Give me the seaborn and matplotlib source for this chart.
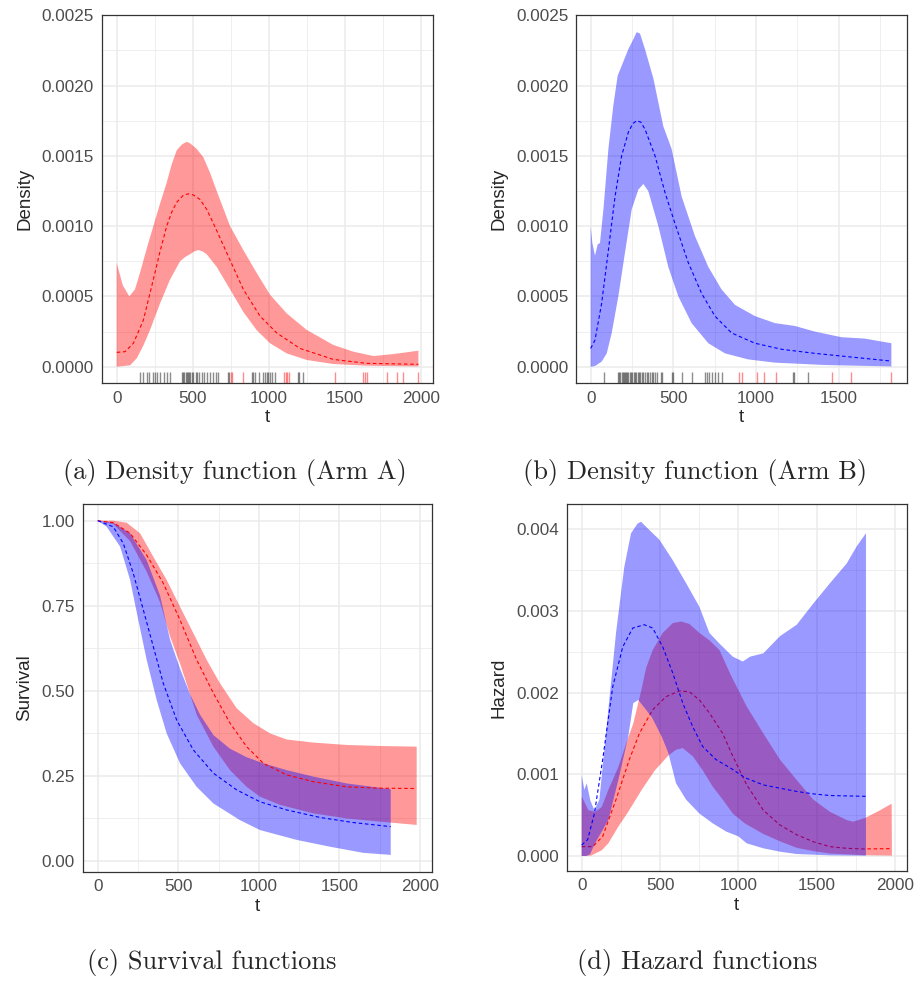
import numpy as np
import matplotlib
matplotlib.use("Agg")
import matplotlib.pyplot as plt
import seaborn as sns

# ---------------- data ----------------
# (a) density, Arm A
a_up_t = [0, 40, 83, 120, 153, 200, 241, 285, 329, 362, 395, 428, 460, 482, 526, 570, 614, 658, 746, 833, 921,
          1009, 1118, 1250, 1425, 1557, 1689, 1820, 1985]
a_up_d = [0.000738, 0.00058, 0.0005, 0.00055, 0.000667, 0.00085, 0.001, 0.00116, 0.00131, 0.00144, 0.00154,
          0.00158, 0.0016, 0.00159, 0.00155, 0.00149, 0.00138, 0.00125, 0.001, 0.00083, 0.000667, 0.000512,
          0.00038, 0.000262, 0.000155, 0.000107, 0.000076, 0.00009, 0.000114]
a_lo_t = [0, 88, 132, 175, 219, 285, 351, 417, 450, 482, 510, 537, 565, 592, 658, 746, 833, 921, 1009, 1118, 1250,
          1425, 1645, 1985]
a_lo_d = [0, 0.00001, 0.00006, 0.00015, 0.00026, 0.00045, 0.00062, 0.00075, 0.00078, 0.0008, 0.00082, 0.00083,
          0.00082, 0.0008, 0.00071, 0.00055, 0.00039, 0.00026, 0.000167, 0.000095, 0.000048, 0.000019, 0.000007,
          0.000002]
a_md_t = [0, 55, 110, 175, 241, 285, 329, 362, 395, 439, 471, 504, 548, 592, 636, 724, 833, 943, 1053, 1206, 1425,
          1645, 1985]
a_md_d = [0.000102, 0.000107, 0.000167, 0.00033, 0.00062, 0.00082, 0.001, 0.0011, 0.00117, 0.00122, 0.00123,
          0.001222, 0.00119, 0.00112, 0.00102, 0.00081, 0.00055, 0.00036, 0.00024, 0.00013, 0.000052, 0.000024,
          0.000017]
a_rug_event = [154, 171, 197, 215, 237, 252, 263, 285, 311, 329, 351, 428, 439, 445, 454, 461, 467, 474, 482, 493,
               504, 522, 531, 544, 559, 575, 592, 614, 636, 654, 669, 730, 741, 888, 899, 910, 939, 965, 976, 987,
               998, 1009, 1020, 1042, 1191, 1202, 1224]
a_rug_cens = [750, 757, 833, 1103, 1112, 1123, 1134, 1436, 1623, 1634, 1645, 1781, 1842, 1882, 1985]

# (b) density, Arm B
b_up_t = [0, 10, 26, 42, 56, 77, 107, 137, 163, 187, 228, 258, 278, 298, 328, 379, 439, 489, 550, 630, 711, 791,
          872, 993, 1114, 1234, 1355, 1516, 1657, 1818]
b_up_d = [0.001, 0.00088, 0.00079, 0.00087, 0.00088, 0.00112, 0.00155, 0.00186, 0.00207, 0.00214, 0.00226, 0.00233,
          0.00238, 0.00237, 0.00226, 0.00205, 0.00171, 0.00155, 0.00121, 0.00093, 0.00071, 0.00055, 0.00044,
          0.00036, 0.00031, 0.00029, 0.00025, 0.00021, 0.0002, 0.000167]
b_lo_t = [0, 26, 66, 97, 127, 167, 207, 248, 288, 318, 348, 409, 469, 530, 610, 711, 812, 952, 1114, 1416, 1818]
b_lo_d = [0, 0.000005, 0.000036, 0.000095, 0.00024, 0.0005, 0.00081, 0.00112, 0.00126, 0.0013, 0.00125, 0.001,
          0.00071, 0.0005, 0.00031, 0.000167, 0.000095, 0.000052, 0.000029, 0.000012, 0.000002]
b_md_t = [0, 26, 66, 107, 147, 187, 228, 255, 278, 303, 328, 389, 449, 509, 590, 671, 751, 852, 993, 1154, 1355,
          1557, 1818]
b_md_d = [0.00013, 0.00019, 0.00045, 0.00083, 0.00121, 0.0015, 0.00167, 0.00173, 0.00175, 0.00174, 0.00169,
          0.0015, 0.00124, 0.00102, 0.00074, 0.00052, 0.00036, 0.00024, 0.000167, 0.000124, 0.000095, 0.000071,
          0.00004]
b_rug_event = [83, 167, 173, 179, 187, 193, 199, 207, 213, 222, 228, 238, 244, 252, 260, 268, 276, 284, 292, 300,
               308, 318, 328, 338, 348, 358, 368, 378, 389, 399, 425, 433, 489, 499, 554, 610, 691, 701, 717, 731,
               751, 771, 795, 1224, 1228, 1315]
b_rug_cens = [896, 912, 1003, 1045, 1120, 1456, 1573, 1818]

# (c) survival
ca_up_t = [0, 97, 180, 263, 345, 428, 511, 594, 676, 759, 862, 966, 1069, 1173, 1338, 1545, 1752, 1979]
ca_up_s = [1, 1, 0.994, 0.963, 0.894, 0.826, 0.747, 0.669, 0.591, 0.522, 0.449, 0.405, 0.375, 0.357, 0.348,
           0.341, 0.338, 0.336]
ca_lo_t = [0, 97, 201, 304, 387, 449, 511, 573, 614, 718, 821, 924, 1007, 1131, 1338, 1545, 1814, 1979]
ca_lo_s = [1, 0.99, 0.94, 0.85, 0.76, 0.66, 0.58, 0.49, 0.43, 0.336, 0.267, 0.218, 0.189, 0.165, 0.14, 0.125,
           0.113, 0.106]
ca_md_t = [0, 97, 201, 304, 407, 511, 614, 718, 821, 924, 1028, 1173, 1338, 1545, 1752, 1979]
ca_md_s = [1, 0.994, 0.963, 0.899, 0.816, 0.708, 0.591, 0.493, 0.405, 0.336, 0.287, 0.253, 0.233, 0.218, 0.214,
           0.213]
cb_up_t = [0, 97, 201, 304, 387, 449, 511, 573, 635, 718, 821, 924, 1028, 1173, 1338, 1545, 1818]
cb_up_s = [1, 0.994, 0.963, 0.884, 0.78, 0.65, 0.565, 0.49, 0.43, 0.37, 0.33, 0.305, 0.287, 0.267, 0.248, 0.228,
           0.211]
cb_lo_t = [0, 56, 139, 201, 252, 304, 366, 428, 511, 614, 718, 883, 1007, 1235, 1441, 1648, 1818]
cb_lo_s = [1, 0.982, 0.924, 0.826, 0.708, 0.591, 0.473, 0.375, 0.287, 0.218, 0.169, 0.12, 0.091, 0.062, 0.042,
           0.024, 0.018]
cb_md_t = [0, 97, 159, 221, 283, 345, 407, 490, 594, 718, 862, 1007, 1173, 1379, 1586, 1818]
cb_md_s = [1, 0.982, 0.933, 0.845, 0.738, 0.63, 0.522, 0.414, 0.326, 0.258, 0.209, 0.174, 0.15, 0.128, 0.113, 0.101]

# (d) hazard
da_up_t = [0, 43, 85, 128, 170, 234, 297, 329, 383, 411, 453, 517, 581, 634, 687, 751, 815, 879, 950, 1053, 1159,
           1265, 1372, 1478, 1585, 1691, 1733, 1814, 1904, 1978]
da_up_h = [0.00073, 0.00056, 0.00054, 0.0006, 0.00081, 0.00109, 0.00145, 0.00162, 0.00205, 0.0023, 0.00252,
           0.00273, 0.00285, 0.00287, 0.00284, 0.00273, 0.00264, 0.00252, 0.00222, 0.00183, 0.0015, 0.00118,
           0.00093, 0.00069, 0.00054, 0.00044, 0.00042, 0.00047, 0.00056, 0.00064]
da_lo_t = [0, 60, 128, 170, 234, 297, 383, 468, 553, 602, 645, 709, 772, 836, 900, 964, 1040, 1159, 1265, 1372,
           1478, 1585, 1797, 1980]
da_lo_h = [0, 0.000005, 0.00007, 0.000155, 0.00036, 0.00054, 0.00081, 0.00105, 0.00123, 0.0013, 0.00132, 0.00122,
           0.00105, 0.00085, 0.00069, 0.00052, 0.0004, 0.00027, 0.00018, 0.0001, 0.00006, 0.00003, 0.00001, 0.000005]
da_md_t = [0, 70, 134, 219, 304, 368, 453, 538, 623, 687, 751, 815, 900, 955, 1053, 1159, 1265, 1372, 1478, 1585,
           1691, 1797, 1978]
da_md_h = [0.000114, 0.000114, 0.00024, 0.00069, 0.00118, 0.0015, 0.00179, 0.00195, 0.00202, 0.00201, 0.00191,
           0.00175, 0.0015, 0.00126, 0.00087, 0.00056, 0.00038, 0.00026, 0.000175, 0.000114, 0.000094, 0.000086,
           0.00009]
db_up_t = [0, 17, 32, 55, 81, 113, 155, 219, 272, 315, 357, 379, 421, 496, 581, 666, 751, 815, 879, 964, 1028, 1075,
           1159, 1265, 1372, 1478, 1585, 1691, 1755, 1814]
db_up_h = [0.00099, 0.00081, 0.00089, 0.00068, 0.00056, 0.00069, 0.0015, 0.00273, 0.00354, 0.00395, 0.00407,
           0.00409, 0.00401, 0.00387, 0.00362, 0.00334, 0.00305, 0.00273, 0.0026, 0.00244, 0.00238, 0.00244,
           0.00248, 0.00269, 0.00283, 0.00309, 0.00334, 0.00358, 0.00379, 0.00395]
db_lo_t = [0, 30, 53, 85, 170, 234, 297, 329, 361, 447, 511, 553, 602, 666, 751, 836, 921, 1000, 1053, 1159, 1265,
           1372, 1585, 1814]
db_lo_h = [0, 0, 0.00002, 0.000155, 0.00044, 0.00093, 0.00146, 0.00187, 0.00191, 0.0017, 0.00146, 0.00126,
           0.00089, 0.00069, 0.00052, 0.0004, 0.0003, 0.00024, 0.000155, 0.000094, 0.000053, 0.000024, 0.000008,
           0.000004]
db_md_t = [0, 38, 81, 134, 198, 262, 326, 400, 453, 517, 581, 645, 709, 772, 857, 955, 1040, 1159, 1265, 1372,
           1478, 1585, 1814]
db_md_h = [0.000135, 0.0002, 0.00052, 0.00118, 0.00207, 0.00256, 0.00279, 0.00283, 0.00279, 0.00256, 0.00224,
           0.00187, 0.00158, 0.00134, 0.00118, 0.00107, 0.00096, 0.00087, 0.00083, 0.00079, 0.00076, 0.00074,
           0.00073]

x_ticks_2000 = [0, 500, 1000, 1500, 2000]
x_ticks_1500 = [0, 500, 1000, 1500]
dens_ticks = [0, 0.0005, 0.001, 0.0015, 0.002, 0.0025]
dens_labels = ["0.0000", "0.0005", "0.0010", "0.0015", "0.0020", "0.0025"]
surv_ticks = [0, 0.25, 0.5, 0.75, 1.0]
surv_labels = ["0.00", "0.25", "0.50", "0.75", "1.00"]
haz_ticks = [0, 0.001, 0.002, 0.003, 0.004]
haz_labels = ["0.000", "0.001", "0.002", "0.003", "0.004"]

captions = ["(a) Density function (Arm A)", "(b) Density function (Arm B)",
            "(c) Survival functions", "(d) Hazard functions"]

# ---------------- styling ----------------
sns.set_style("white")
plt.rcParams["font.family"] = ["Liberation Sans", "DejaVu Sans"]

W, H = 916, 983
fig = plt.figure(figsize=(W / 100, H / 100), dpi=100)


def px_axes(l, t, r, b):
    return fig.add_axes([l / W, 1 - b / H, (r - l) / W, (b - t) / H])


RED = "#FF0000"
BLUE = "#0000FF"
DASH = (0, (3.2, 2.4))
GRID = "#EBEBEB"
INK = "#333333"


def style(ax, xt, yt, ylab, xlim, ylim):
    ax.set_xlim(*xlim)
    ax.set_ylim(*ylim)
    ax.set_xticks(xt, [str(v) for v in xt])
    ax.set_yticks(yt, ylab)
    xm = [(xt[i] + xt[i + 1]) / 2 for i in range(len(xt) - 1)]
    if xt[-1] + (xt[1] - xt[0]) / 2 < xlim[1]:
        xm.append(xt[-1] + (xt[1] - xt[0]) / 2)
    ym = [(yt[i] + yt[i + 1]) / 2 for i in range(len(yt) - 1)]
    if yt[-1] + (yt[1] - yt[0]) / 2 < ylim[1]:
        ym.append(yt[-1] + (yt[1] - yt[0]) / 2)
    ax.set_xticks(xm, minor=True)
    ax.set_yticks(ym, minor=True)
    ax.grid(True, which="major", color=GRID, lw=1.1, zorder=0)
    ax.grid(True, which="minor", color=GRID, lw=0.55, zorder=0)
    ax.set_axisbelow(True)
    ax.tick_params(which="major", length=3.5, width=0.8, color=INK, labelsize=12.3, labelcolor="#4D4D4D", pad=2)
    ax.tick_params(which="minor", length=0)
    for s in ax.spines.values():
        s.set_color(INK)
        s.set_linewidth(0.9)
    ax.set_xlabel("t", fontsize=13.5, labelpad=2.5)


def band(ax, tu, vu, tl, vl, color, z):
    xs = np.concatenate([np.asarray(tu, float), np.asarray(tl, float)[::-1]])
    ys = np.concatenate([np.asarray(vu, float), np.asarray(vl, float)[::-1]])
    ax.fill(xs, ys, color=color, alpha=0.4, lw=0, zorder=z)


def median(ax, t, v, color, z):
    sns.lineplot(x=t, y=v, ax=ax, color=color, lw=0.8, linestyle=DASH, zorder=z)


# (a)
ax = px_axes(101.7, 15.3, 432.7, 383.3)
band(ax, a_up_t, a_up_d, a_lo_t, a_lo_d, RED, 2)
median(ax, a_md_t, a_md_d, RED, 3)
sns.rugplot(x=a_rug_event, ax=ax, height=0.03, color="black", alpha=0.45, lw=0.9)
sns.rugplot(x=a_rug_cens, ax=ax, height=0.03, color=RED, alpha=0.45, lw=0.9)
style(ax, x_ticks_2000, dens_ticks, dens_labels, (-98.7, 2079), (-0.000118, 0.0025))
ax.set_ylabel("Density", fontsize=13.5, labelpad=6)

# (b)
ax = px_axes(576.0, 15.3, 906.7, 383.3)
band(ax, b_up_t, b_up_d, b_lo_t, b_lo_d, BLUE, 2)
median(ax, b_md_t, b_md_d, BLUE, 3)
sns.rugplot(x=b_rug_event, ax=ax, height=0.03, color="black", alpha=0.45, lw=0.9)
sns.rugplot(x=b_rug_cens, ax=ax, height=0.03, color=RED, alpha=0.45, lw=0.9)
style(ax, x_ticks_1500, dens_ticks, dens_labels, (-88.9, 1910.5), (-0.000118, 0.0025))
ax.set_ylabel("Density", fontsize=13.5, labelpad=6)

# (c)
ax = px_axes(82.7, 504.0, 432.0, 871.7)
band(ax, ca_up_t, ca_up_s, ca_lo_t, ca_lo_s, RED, 2)
band(ax, cb_up_t, cb_up_s, cb_lo_t, cb_lo_s, BLUE, 2.1)
median(ax, ca_md_t, ca_md_s, RED, 3)
median(ax, cb_md_t, cb_md_s, BLUE, 3.1)
style(ax, x_ticks_2000, surv_ticks, surv_labels, (-93, 2074), (-0.0314, 1.049))
ax.set_ylabel("Survival", fontsize=13.5, labelpad=6)

# (d)
ax = px_axes(566.7, 504.0, 906.7, 870.7)
band(ax, da_up_t, da_up_h, da_lo_t, da_lo_h, RED, 2)
median(ax, da_md_t, da_md_h, RED, 2.2)
band(ax, db_up_t, db_up_h, db_lo_t, db_lo_h, BLUE, 2.4)
median(ax, db_md_t, db_md_h, BLUE, 3)
style(ax, x_ticks_2000, haz_ticks, haz_labels, (-95.7, 2074), (-0.00018, 0.004308))
ax.set_ylabel("Hazard", fontsize=13.5, labelpad=6)

# captions
cap_pos = [(235, 473), (695, 473), (211.5, 963), (697.5, 963)]
for (cx, cy), txt in zip(cap_pos, captions):
    fig.text(cx / W, 1 - cy / H, txt, ha="center", va="center", fontsize=19, family="cmr10")

fig.savefig("out.png", dpi=100)
